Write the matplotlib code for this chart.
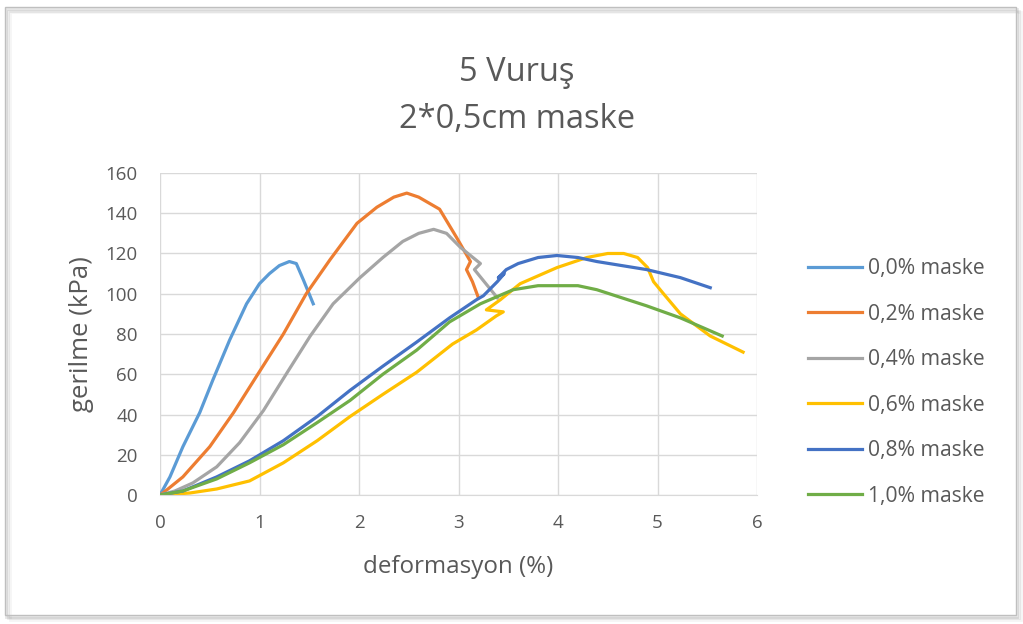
import matplotlib.pyplot as plt
from matplotlib.patches import Rectangle

plt.rcParams['font.family'] = ['Open Sans', 'DejaVu Sans']

labels = ['0,0% maske', '0,2% maske', '0,4% maske', '0,6% maske', '0,8% maske', '1,0% maske']
colors = ['#5B9BD5', '#ED7D31', '#A5A5A5', '#FFC000', '#4472C4', '#70AD47']

x00 = [0, 0.1, 0.23, 0.4, 0.53, 0.7, 0.87, 1.0, 1.1, 1.2, 1.3, 1.37, 1.44, 1.54]
y00 = [0, 9, 24, 41, 57, 77, 95, 105, 110, 114, 116, 115, 107, 95]

x02 = [0, 0.03, 0.23, 0.5, 0.74, 0.97, 1.24, 1.47, 1.71, 1.98, 2.18, 2.35, 2.48, 2.6, 2.81, 2.98, 3.12, 3.08, 3.14, 3.2]
y02 = [0, 1, 9, 24, 41, 59, 80, 100, 117, 135, 143, 148, 150, 148, 142, 128, 116, 112, 106, 98]

x04 = [0, 0.15, 0.33, 0.57, 0.8, 1.04, 1.28, 1.51, 1.74, 2.01, 2.24, 2.44, 2.6, 2.75, 2.88, 3.02, 3.22, 3.16, 3.39]
y04 = [0, 2, 6, 14, 26, 42, 61, 79, 95, 108, 118, 126, 130, 132, 130, 123, 115, 112, 98]

x06 = [0, 0.3, 0.57, 0.9, 1.24, 1.58, 1.91, 2.24, 2.58, 2.94, 3.18, 3.38, 3.45, 3.28, 3.42, 3.62, 3.99, 4.29, 4.5, 4.66, 4.8, 4.9, 4.96, 5.06, 5.23, 5.53, 5.86]
y06 = [0, 1, 3, 7, 16, 27, 39, 50, 61, 75, 82, 89, 91, 92, 97, 105, 113, 118, 120, 120, 118, 113, 106, 100, 90, 79, 71]

x08 = [0, 0.23, 0.57, 0.9, 1.24, 1.58, 1.91, 2.24, 2.58, 2.91, 3.18, 3.25, 3.39, 3.46, 3.40, 3.48, 3.6, 3.8, 3.99, 4.2, 4.39, 4.89, 5.23, 5.53]
y08 = [0, 2, 9, 17, 27, 39, 52, 64, 76, 88, 97, 99, 106, 110, 108, 112, 115, 118, 119, 118, 116, 112, 108, 103]

x10 = [0, 0.23, 0.57, 0.9, 1.24, 1.58, 1.91, 2.24, 2.58, 2.91, 3.22, 3.55, 3.8, 3.99, 4.2, 4.39, 4.89, 5.23, 5.65]
y10 = [0, 2, 8, 16, 25, 36, 47, 60, 72, 86, 95, 102, 104, 104, 104, 102, 94, 88, 79]

xs = [x00, x02, x04, x06, x08, x10]
ys = [y00, y02, y04, y06, y08, y10]

grey = '#595959'

fig = plt.figure(figsize=(10.23, 6.24), dpi=100)
ax = fig.add_axes([0.1564, 0.2067, 0.5836, 0.5161])

# chart frame with a soft shadow
for i, a in enumerate([0.10, 0.07, 0.04]):
    fig.patches.append(Rectangle((0.006 + i * 0.002, 0.012 - i * 0.003), 0.988, 0.974,
                                 transform=fig.transFigure, fill=False,
                                 edgecolor='black', alpha=a, lw=2))
fig.patches.append(Rectangle((0.005, 0.014), 0.988, 0.974, transform=fig.transFigure,
                             fill=False, edgecolor='#BFBFBF', lw=1))

for x, y, c, lab in zip(xs, ys, colors, labels):
    ax.plot(x, y, color=c, lw=2.3, label=lab, solid_joinstyle='round')

ax.set_xlim(0, 6)
ax.set_ylim(0, 160)
ax.set_xticks(range(0, 7))
ax.set_yticks(range(0, 161, 20))
ax.grid(True, color='#D9D9D9', lw=1)
ax.set_axisbelow(True)
for s in ['top', 'right', 'left']:
    ax.spines[s].set_visible(False)
ax.spines['bottom'].set_color('#D9D9D9')
ax.tick_params(axis='y', length=0, labelsize=13.5, colors=grey, pad=16)
ax.tick_params(axis='x', length=0, labelsize=13.5, colors=grey, pad=14)

ax.set_xlabel('deformasyon (%)', fontsize=17.4, color=grey, labelpad=16)
ax.set_ylabel('gerilme (kPa)', fontsize=18.5, color=grey, labelpad=8)

fig.text(0.505, 0.884, '5 Vuruş', ha='center', va='center', fontsize=23.5, color=grey)
fig.text(0.505, 0.808, '2*0,5cm maske', ha='center', va='center', fontsize=23.5, color=grey)

leg = ax.legend(loc='center left', bbox_to_anchor=(1.067, 0.35), frameon=False,
                borderpad=0, fontsize=15.2, labelcolor=grey, handlelength=2.6,
                handletextpad=0.25, labelspacing=1.16)

fig.savefig('out.png', dpi=100)
